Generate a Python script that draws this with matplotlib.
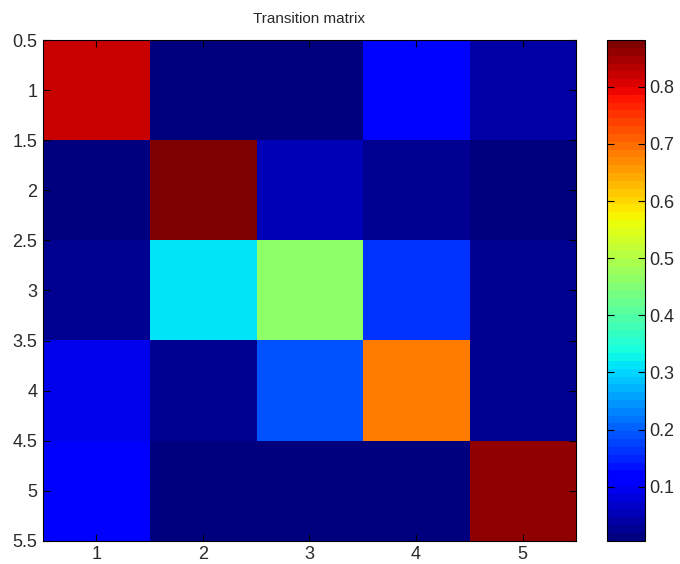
import matplotlib
matplotlib.use("Agg")
import matplotlib.pyplot as plt
import numpy as np

plt.rcParams["font.family"] = ["Liberation Sans", "DejaVu Sans"]

# transition probabilities, one row per state
row1 = [0.826, 0.008, 0.008, 0.115, 0.035]
row2 = [0.010, 0.882, 0.050, 0.022, 0.014]
row3 = [0.030, 0.320, 0.470, 0.160, 0.020]
row4 = [0.095, 0.030, 0.195, 0.690, 0.020]
row5 = [0.108, 0.006, 0.006, 0.005, 0.866]

states = [1, 2, 3, 4, 5]
y_ticks = [0.5, 1, 1.5, 2, 2.5, 3, 3.5, 4, 4.5, 5, 5.5]
cbar_ticks = [0.1, 0.2, 0.3, 0.4, 0.5, 0.6, 0.7, 0.8]

P = np.array([row1, row2, row3, row4, row5])

fig = plt.figure(figsize=(6.8, 5.64), dpi=100)
ax = fig.add_axes([0.063, 0.041, 0.784, 0.888])
cax = fig.add_axes([0.893, 0.041, 0.056, 0.888])

cmap = plt.get_cmap("jet", 64)
im = ax.imshow(P, cmap=cmap, aspect="auto", interpolation="nearest",
               extent=(0.5, 5.5, 5.5, 0.5))

txt = "#2a2a2a"
ax.set_xticks(states)
ax.set_yticks(y_ticks)
ax.set_yticklabels([f"{t:g}" for t in y_ticks])
ax.tick_params(direction="in", top=True, right=True, length=5,
               labelsize=13, width=0.8, labelcolor=txt, pad=4)
ax.set_title("Transition matrix", fontsize=11, pad=12, color=txt)
for s in ax.spines.values():
    s.set_linewidth(0.8)

cb = fig.colorbar(im, cax=cax, ticks=cbar_ticks)
cb.ax.tick_params(direction="in", left=True, right=True, length=5,
                  labelsize=13, width=0.8, labelcolor=txt, pad=3)
cb.ax.set_yticklabels([f"{t:g}" for t in cbar_ticks])
cb.outline.set_linewidth(0.8)

fig.savefig("out.png", dpi=100)
